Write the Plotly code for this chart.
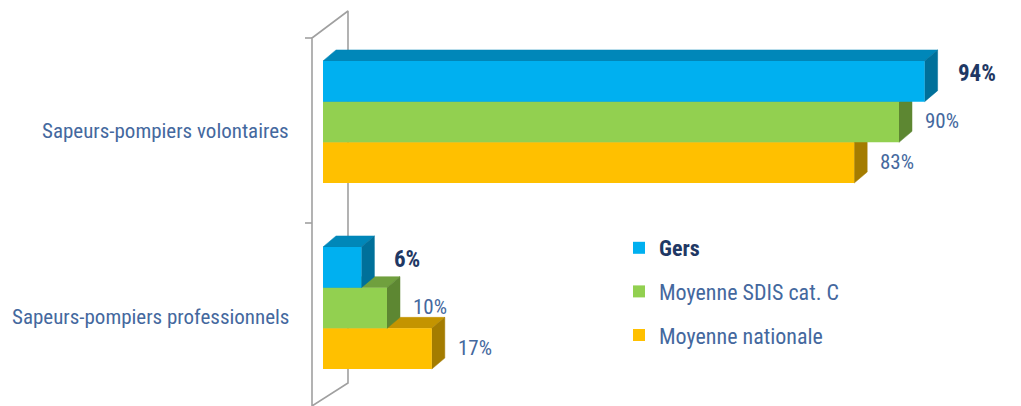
import plotly.graph_objects as go

# data (%)
categories = ["Sapeurs-pompiers volontaires", "Sapeurs-pompiers professionnels"]
series_names = ["Gers", "Moyenne SDIS cat. C", "Moyenne nationale"]
gers = [94, 6]
sdis_cat_c = [90, 10]
moyenne_nationale = [83, 17]

series_values = [gers, sdis_cat_c, moyenne_nationale]

# styles
front_colors = ["#00B0F0", "#92D050", "#FFC000"]
top_colors = ["#0087B9", "#70A03E", "#C49400"]
side_colors = ["#00709A", "#5D8732", "#A47C00"]
light_text = "#44689E"
dark_text = "#1F3864"
font_family = "Liberation Sans Narrow, Roboto Condensed, DejaVu Sans Condensed, Roboto, sans-serif"

# layout geometry (figure is 1021 x 406, plot area fills it)
W, H = 1021, 406
X0_PX = 323          # pixel where 0 % sits
PX_PER_PCT = 6.4
Y0_PX = 122          # pixel centre of first category
PX_PER_CAT = 186
BAR_H = 40.7 / PX_PER_CAT
DX = 13 / PX_PER_PCT  # fake 3D depth
DY = 11 / PX_PER_CAT


def xpx(p):
    return (p - X0_PX) / PX_PER_PCT


def ypx(p):
    return (p - Y0_PX) / PX_PER_CAT


offsets = [-BAR_H, 0, BAR_H]

fig = go.Figure()

# left wall of the 3D frame
front, back, tick = xpx(312), xpx(348), xpx(305)
fig.add_trace(go.Scatter(
    x=[front, front, back, back, front, None, tick, front, None, tick, front],
    y=[ypx(410), ypx(38), ypx(11), ypx(383), ypx(406), None,
       ypx(38), ypx(38), None, ypx(223), ypx(223)],
    mode="lines",
    line=dict(color="#A0A0A0", width=1.6),
    hoverinfo="skip",
    showlegend=False,
    zorder=0,
))

# draw bottom series first so upper bars cover their depth faces
for s in reversed(range(len(series_names))):
    values = series_values[s]
    z = 2 * (3 - s)
    for i, v in enumerate(values):
        yc = i + offsets[s]
        y_top = yc - BAR_H / 2
        y_bot = yc + BAR_H / 2
        # top face
        fig.add_trace(go.Scatter(
            x=[0, v, v + DX, DX, 0],
            y=[y_top, y_top, y_top - DY, y_top - DY, y_top],
            mode="lines", fill="toself",
            fillcolor=top_colors[s],
            line=dict(color=top_colors[s], width=0.5),
            hoverinfo="skip", showlegend=False, zorder=z,
        ))
        # side face
        fig.add_trace(go.Scatter(
            x=[v, v + DX, v + DX, v, v],
            y=[y_top, y_top - DY, y_bot - DY, y_bot, y_top],
            mode="lines", fill="toself",
            fillcolor=side_colors[s],
            line=dict(color=side_colors[s], width=0.5),
            hoverinfo="skip", showlegend=False, zorder=z,
        ))

    if s == 0:
        legend_name = f"<span style='color:{dark_text}'><b>{series_names[s]}</b></span>"
    else:
        legend_name = series_names[s]

    fig.add_trace(go.Bar(
        x=values,
        y=[i + offsets[s] for i in range(len(categories))],
        base=0,
        width=BAR_H,
        orientation="h",
        marker=dict(color=front_colors[s], line=dict(width=0)),
        name=legend_name,
        legendgroup=series_names[s],
        legendrank=s,
        zorder=z + 1,
    ))

    # value labels
    for i, v in enumerate(values):
        bold = s == 0
        fig.add_annotation(
            x=v + (31 if bold else 24) / PX_PER_PCT,
            y=i + offsets[s],
            text=f"<b>{v}%</b>" if bold else f"{v}%",
            showarrow=False,
            xanchor="left",
            yanchor="middle",
            yshift=8 if bold else 1,
            font=dict(family=font_family, size=23 if bold else 21,
                      color=dark_text if bold else light_text),
        )

# category labels
for i, cat in enumerate(categories):
    fig.add_annotation(
        x=xpx(291),
        y=i,
        text=cat,
        showarrow=False,
        xanchor="right",
        yanchor="middle",
        yshift=-9,
        font=dict(family=font_family, size=21, color=light_text),
    )

fig.update_layout(
    width=W,
    height=H,
    margin=dict(l=0, r=0, t=0, b=0),
    paper_bgcolor="white",
    plot_bgcolor="white",
    barmode="overlay",
    showlegend=True,
    legend=dict(
        x=619 / W,
        y=1 - 227 / H,
        xanchor="left",
        yanchor="top",
        bgcolor="rgba(0,0,0,0)",
        font=dict(family=font_family, size=22, color=light_text),
        tracegroupgap=12,
        itemclick=False,
    ),
    xaxis=dict(range=[xpx(0), xpx(W)], visible=False, fixedrange=True),
    yaxis=dict(range=[ypx(H), ypx(0)], visible=False, fixedrange=True),
)

fig.write_html(
    "out.html",
    config={"displayModeBar": False},
    post_script="document.body.style.margin='0';",
)
